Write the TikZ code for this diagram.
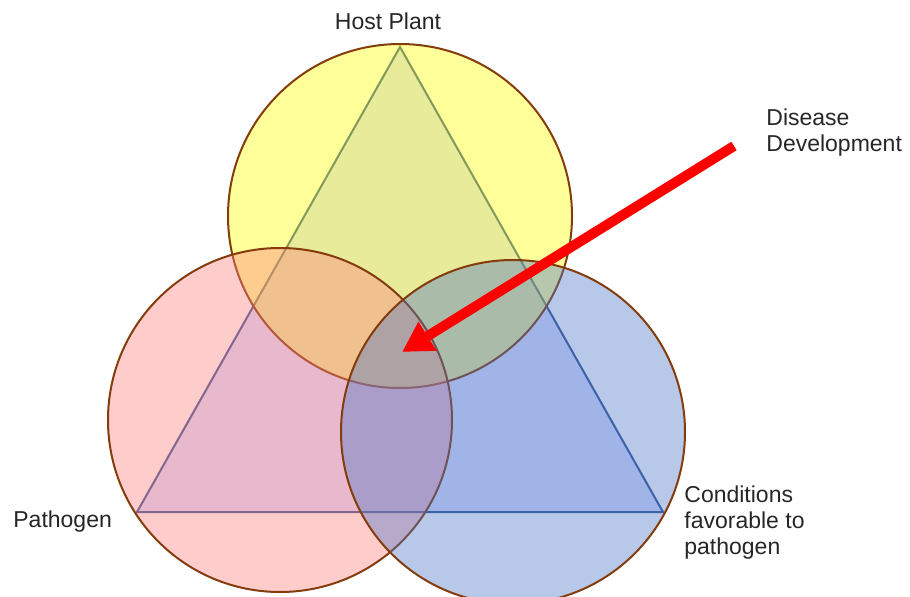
\documentclass[tikz,border=0pt]{standalone}
\usepackage{fontspec}
\setmainfont{Liberation Sans}
\usetikzlibrary{arrows.meta}

\definecolor{ringbrown}{RGB}{132,60,12}
\definecolor{hostyellow}{RGB}{255,255,0}
\definecolor{pathpink}{RGB}{255,128,128}
\definecolor{condblue}{RGB}{77,117,197}
\definecolor{trifill}{RGB}{217,223,255}
\definecolor{triline}{RGB}{47,85,151}

\begin{document}
\begin{tikzpicture}[x=0.5pt, y=0.5pt,
every node/.style={%anchor=base,
    inner sep=0pt, font=\fontsize{11.5}{13}\selectfont, text=black!85
    },
ring/.style={circle, draw=ringbrown, line width=1pt, fill opacity=0.4, minimum size=172pt},
tri/.style={draw=triline, fill=trifill, line width=1pt},
pointer/.style={red, line width=5pt, -{Triangle[length=15pt, width=16pt]}}
]
\useasboundingbox (0,0) rectangle (910,596);

\coordinate (apex) at (400,549);
\coordinate (corner l) at (137,84);
\coordinate (corner r) at (663,84);
\draw [tri] (apex) -- (corner l) -- (corner r) -- cycle;

\foreach \n/\x/\y/\c in {host/400/380/hostyellow,
                         pathogen/280/176/pathpink,
                         conditions/513/164/condblue%
            }
    \node [ring, fill=\c] (\n) at (\x,\y) {};

\node [anchor=base] (host label) at (388,567) {Host Plant};
\node [anchor=base west] (pathogen label) at (13,69) {Pathogen};
\node [anchor=north west, align=left] (conditions label) at (684,111) {Conditions\\favorable to\\pathogen};
\node [anchor=north west, align=left] (disease label) at (766,488) {Disease\\Development};

\coordinate (arrow tail) at (734,450);
\coordinate (arrow tip) at (402,244);
\draw [pointer] (arrow tail) -- (arrow tip);
\end{tikzpicture}
\end{document}
